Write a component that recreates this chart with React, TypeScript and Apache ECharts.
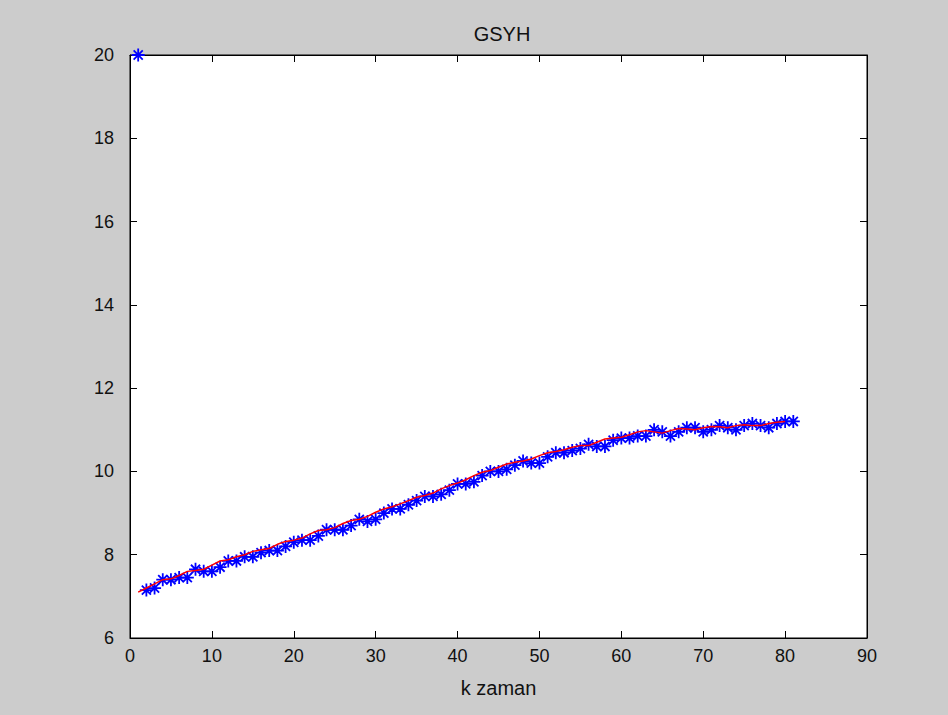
import React, { useEffect, useRef } from "react";
import * as echarts from "echarts";

// Sample index k
const kMeasured: number[] = Array.from({ length: 81 }, (_, i) => i + 1);
const kEstimate: number[] = Array.from({ length: 80 }, (_, i) => i + 1);

// Measured GSYH (blue stars), k = 1..81
const measured: number[] = [
  20.0, 7.15, 7.2, 7.4, 7.4, 7.45, 7.45, 7.65, 7.6, 7.6,
  7.7, 7.85, 7.85, 7.95, 7.95, 8.05, 8.1, 8.1, 8.2, 8.3,
  8.35, 8.35, 8.45, 8.6, 8.6, 8.6, 8.7, 8.85, 8.8, 8.85,
  9.0, 9.1, 9.1, 9.2, 9.3, 9.4, 9.4, 9.45, 9.55, 9.7,
  9.7, 9.75, 9.9, 10.0, 10.0, 10.05, 10.15, 10.25, 10.2, 10.2,
  10.35, 10.45, 10.45, 10.5, 10.55, 10.65, 10.6, 10.6, 10.75, 10.8,
  10.8, 10.85, 10.85, 11.0, 10.95, 10.85, 10.95, 11.05, 11.05, 10.95,
  11.0, 11.1, 11.05, 11.0, 11.1, 11.15, 11.1, 11.05, 11.15, 11.2,
  11.2,
];

// Estimated GSYH (red line), k = 1..80
const estimate: number[] = [
  7.1, 7.2, 7.3, 7.4, 7.42, 7.5, 7.6, 7.62, 7.65, 7.75,
  7.85, 7.88, 7.95, 8.0, 8.08, 8.12, 8.15, 8.25, 8.32, 8.35,
  8.4, 8.5, 8.58, 8.6, 8.65, 8.75, 8.82, 8.85, 8.92, 9.02,
  9.1, 9.15, 9.22, 9.3, 9.38, 9.42, 9.48, 9.58, 9.66, 9.72,
  9.8, 9.9, 9.98, 10.02, 10.1, 10.18, 10.22, 10.25, 10.3, 10.38,
  10.45, 10.48, 10.52, 10.58, 10.62, 10.62, 10.7, 10.78, 10.8, 10.82,
  10.88, 10.95, 10.98, 10.95, 10.92, 10.98, 11.03, 11.02, 11.0, 11.05,
  11.08, 11.07, 11.05, 11.1, 11.12, 11.1, 11.1, 11.15, 11.18, 11.2,
];

const xTicks = { min: 0, max: 90, interval: 10 };
const yTicks = { min: 6, max: 20, interval: 2 };

const STAR =
  "path://M0,-6L0,6M-6,0L6,0M-4.2,-4.2L4.2,4.2M-4.2,4.2L4.2,-4.2";

const FONT = "Liberation Sans, Arial, sans-serif";

export default function App() {
  const ref = useRef<HTMLDivElement>(null);

  useEffect(() => {
    if (!ref.current) return;
    const chart = echarts.init(ref.current, undefined, { renderer: "svg" });

    const tickStyle = { inside: true, length: 7, lineStyle: { color: "#000", width: 1 } };
    const axisLineStyle = { show: true, onZero: false, lineStyle: { color: "#000", width: 1 } };
    const labelStyle = { color: "#111", fontFamily: FONT, fontSize: 18 };

    chart.setOption({
      animation: false,
      backgroundColor: "#cccccc",
      title: {
        text: "GSYH",
        left: 497,
        top: 19,
        textAlign: "center",
        textStyle: { color: "#111", fontFamily: FONT, fontSize: 20, fontWeight: "normal" },
      },
      grid: {
        left: 130,
        right: 81,
        top: 55,
        bottom: 77,
        show: true,
        backgroundColor: "#ffffff",
        borderColor: "#000",
        borderWidth: 1,
      },
      xAxis: [
        {
          type: "value",
          position: "bottom",
          ...xTicks,
          name: "k zaman",
          nameLocation: "middle",
          nameGap: 40,
          nameTextStyle: { ...labelStyle, fontSize: 20 },
          axisLine: axisLineStyle,
          axisTick: tickStyle,
          axisLabel: { ...labelStyle, margin: 9 },
          splitLine: { show: false },
        },
        {
          type: "value",
          position: "top",
          ...xTicks,
          axisLine: axisLineStyle,
          axisTick: tickStyle,
          axisLabel: { show: false },
          splitLine: { show: false },
        },
      ],
      yAxis: [
        {
          type: "value",
          position: "left",
          ...yTicks,
          axisLine: axisLineStyle,
          axisTick: tickStyle,
          axisLabel: { ...labelStyle, margin: 16 },
          splitLine: { show: false },
        },
        {
          type: "value",
          position: "right",
          ...yTicks,
          axisLine: axisLineStyle,
          axisTick: tickStyle,
          axisLabel: { show: false },
          splitLine: { show: false },
        },
      ],
      series: [
        {
          type: "scatter",
          name: "measured",
          xAxisIndex: 0,
          yAxisIndex: 0,
          data: kMeasured.map((k, i) => [k, measured[i]]),
          symbol: STAR,
          symbolSize: 13,
          itemStyle: { color: "rgba(0,0,0,0)", borderColor: "#0000ff", borderWidth: 1.8, opacity: 1 },
          z: 2,
        },
        {
          type: "line",
          name: "estimate",
          xAxisIndex: 0,
          yAxisIndex: 0,
          data: kEstimate.map((k, i) => [k, estimate[i]]),
          showSymbol: false,
          symbol: "none",
          lineStyle: { color: "#ff0000", width: 1.5 },
          z: 3,
        },
      ],
    });

    return () => chart.dispose();
  }, []);

  return (
    <div
      ref={ref}
      style={{ position: "fixed", left: 0, top: 0, width: 948, height: 715 }}
    />
  );
}
